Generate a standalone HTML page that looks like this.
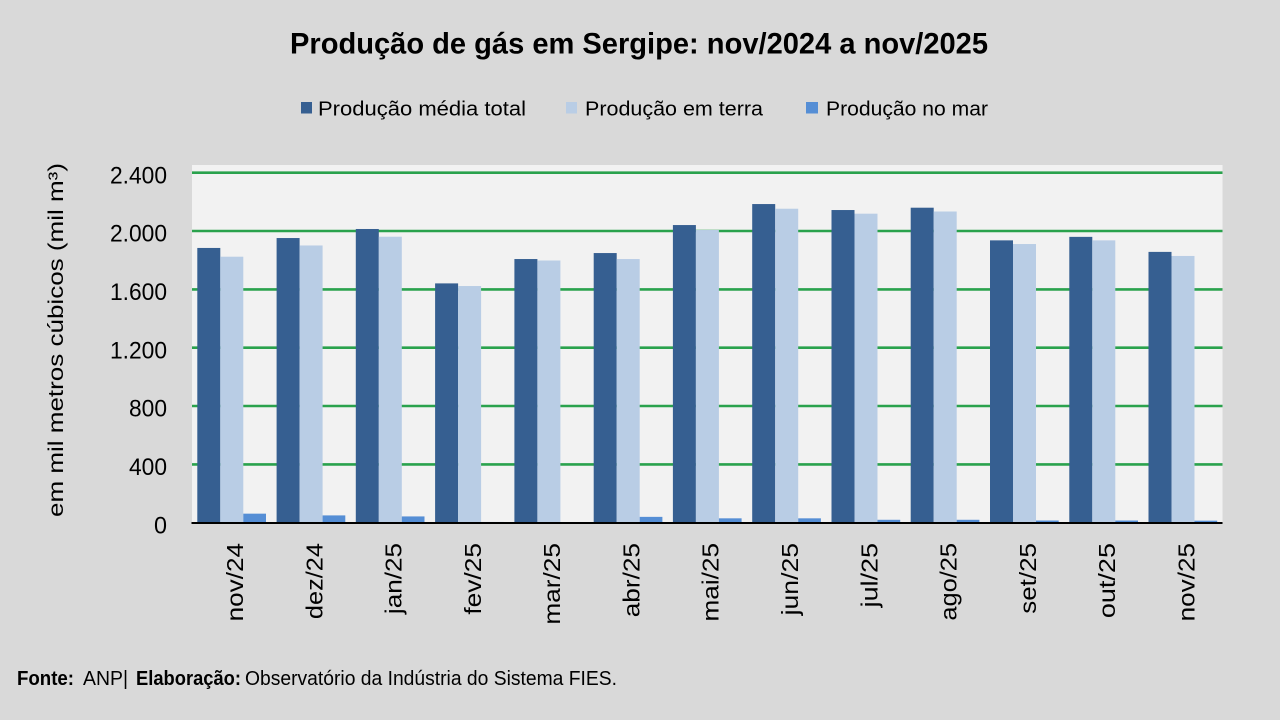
<!DOCTYPE html>
<html>
<head>
<meta charset="utf-8">
<style>
  html,body{margin:0;padding:0;background:#d9d9d9;}
  svg{display:block;}
  text{font-family:"Liberation Sans",Arial,sans-serif;fill:#000;}
</style>
</head>
<body>
<svg width="1280" height="720" viewBox="0 0 1280 720" xmlns="http://www.w3.org/2000/svg">
  <rect x="0" y="0" width="1280" height="720" fill="#d9d9d9"/>

  <!-- Title -->
  <text x="290" y="53.5" font-size="30" font-weight="bold" textLength="698" lengthAdjust="spacingAndGlyphs">Produção de gás em Sergipe: nov/2024 a nov/2025</text>

  <!-- Legend -->
  <rect x="301" y="102" width="11" height="11.5" fill="#365f91"/>
  <text x="318" y="115.5" font-size="20.5" textLength="208" lengthAdjust="spacingAndGlyphs">Produção média total</text>
  <rect x="566" y="102" width="11" height="11.5" fill="#b9cde5"/>
  <text x="585" y="115.5" font-size="20.5" textLength="178" lengthAdjust="spacingAndGlyphs">Produção em terra</text>
  <rect x="806" y="102" width="12" height="11.5" fill="#558ed5"/>
  <text x="826" y="115.5" font-size="20.5" textLength="162" lengthAdjust="spacingAndGlyphs">Produção no mar</text>

  <!-- Plot area -->
  <rect x="192" y="165" width="1030.5" height="358" fill="#f2f2f2"/>

  <!-- Gridlines -->
  <g stroke="#2aa24d" stroke-width="2.6">
    <line x1="192" y1="172.7" x2="1222.5" y2="172.7"/>
    <line x1="192" y1="231.0" x2="1222.5" y2="231.0"/>
    <line x1="192" y1="289.4" x2="1222.5" y2="289.4"/>
    <line x1="192" y1="347.7" x2="1222.5" y2="347.7"/>
    <line x1="192" y1="406.0" x2="1222.5" y2="406.0"/>
    <line x1="192" y1="464.4" x2="1222.5" y2="464.4"/>
  </g>

  <!-- Bars: dark (total) -->
  <g transform="translate(0,522.7) scale(1,-0.145833)" fill="#365f91">
    <rect x="197.3" y="0" width="23" height="1884"/>
    <rect x="276.6" y="0" width="23" height="1952"/>
    <rect x="355.8" y="0" width="23" height="2014"/>
    <rect x="435.1" y="0" width="23" height="1641"/>
    <rect x="514.4" y="0" width="23" height="1808"/>
    <rect x="593.7" y="0" width="23" height="1849"/>
    <rect x="672.9" y="0" width="23" height="2041"/>
    <rect x="752.2" y="0" width="23" height="2185"/>
    <rect x="831.5" y="0" width="23" height="2144"/>
    <rect x="910.7" y="0" width="23" height="2160"/>
    <rect x="990.0" y="0" width="23" height="1936"/>
    <rect x="1069.3" y="0" width="23" height="1960"/>
    <rect x="1148.5" y="0" width="23" height="1857"/>
  </g>
  <!-- Bars: light (terra) -->
  <g transform="translate(23,522.7) scale(1,-0.145833)" fill="#b9cde5">
    <rect x="197.3" y="0" width="23" height="1824"/>
    <rect x="276.6" y="0" width="23" height="1901"/>
    <rect x="355.8" y="0" width="23" height="1961"/>
    <rect x="435.1" y="0" width="23" height="1623"/>
    <rect x="514.4" y="0" width="23" height="1798"/>
    <rect x="593.7" y="0" width="23" height="1808"/>
    <rect x="672.9" y="0" width="23" height="2007"/>
    <rect x="752.2" y="0" width="23" height="2153"/>
    <rect x="831.5" y="0" width="23" height="2119"/>
    <rect x="910.7" y="0" width="23" height="2134"/>
    <rect x="990.0" y="0" width="23" height="1911"/>
    <rect x="1069.3" y="0" width="23" height="1936"/>
    <rect x="1148.5" y="0" width="23" height="1829"/>
  </g>
  <!-- Bars: blue (mar) -->
  <g transform="translate(46,522.7) scale(1,-0.145833)" fill="#558ed5">
    <rect x="197.3" y="0" width="22.7" height="62"/>
    <rect x="276.6" y="0" width="22.7" height="50"/>
    <rect x="355.8" y="0" width="22.7" height="43"/>
    <rect x="435.1" y="0" width="22.7" height="5"/>
    <rect x="514.4" y="0" width="22.7" height="0"/>
    <rect x="593.7" y="0" width="22.7" height="40"/>
    <rect x="672.9" y="0" width="22.7" height="30"/>
    <rect x="752.2" y="0" width="22.7" height="30"/>
    <rect x="831.5" y="0" width="22.7" height="20"/>
    <rect x="910.7" y="0" width="22.7" height="20"/>
    <rect x="990.0" y="0" width="22.7" height="15"/>
    <rect x="1069.3" y="0" width="22.7" height="15"/>
    <rect x="1148.5" y="0" width="22.7" height="14"/>
  </g>

  <!-- X axis line -->
  <line x1="191.5" y1="523" x2="1222.5" y2="523" stroke="#000" stroke-width="2"/>

  <!-- Y tick labels -->
  <g font-size="24" text-anchor="end">
    <text x="167" y="183.3" textLength="57" lengthAdjust="spacingAndGlyphs">2.400</text>
    <text x="167" y="241.6" textLength="57" lengthAdjust="spacingAndGlyphs">2.000</text>
    <text x="167" y="300.0" textLength="57" lengthAdjust="spacingAndGlyphs">1.600</text>
    <text x="167" y="358.3" textLength="57" lengthAdjust="spacingAndGlyphs">1.200</text>
    <text x="167" y="416.6" textLength="38" lengthAdjust="spacingAndGlyphs">800</text>
    <text x="167" y="475.0" textLength="38" lengthAdjust="spacingAndGlyphs">400</text>
    <text x="167" y="533.3" textLength="13" lengthAdjust="spacingAndGlyphs">0</text>
  </g>

  <!-- Y axis title -->
  <text transform="translate(63,340) rotate(-90)" x="0" y="0" font-size="21" text-anchor="middle" textLength="354" lengthAdjust="spacingAndGlyphs">em mil metros cúbicos (mil m³)</text>

  <!-- X labels -->
  <g font-size="23" text-anchor="end">
    <text transform="translate(243.1,543) rotate(-90)" textLength="78.4" lengthAdjust="spacingAndGlyphs">nov/24</text>
    <text transform="translate(322.4,543) rotate(-90)" textLength="76.1" lengthAdjust="spacingAndGlyphs">dez/24</text>
    <text transform="translate(401.6,543) rotate(-90)" textLength="71.1" lengthAdjust="spacingAndGlyphs">jan/25</text>
    <text transform="translate(480.9,543) rotate(-90)" textLength="71.7" lengthAdjust="spacingAndGlyphs">fev/25</text>
    <text transform="translate(560.2,543) rotate(-90)" textLength="81.7" lengthAdjust="spacingAndGlyphs">mar/25</text>
    <text transform="translate(639.5,543) rotate(-90)" textLength="74.3" lengthAdjust="spacingAndGlyphs">abr/25</text>
    <text transform="translate(718.7,543) rotate(-90)" textLength="78.5" lengthAdjust="spacingAndGlyphs">mai/25</text>
    <text transform="translate(798.0,543) rotate(-90)" textLength="72.4" lengthAdjust="spacingAndGlyphs">jun/25</text>
    <text transform="translate(877.3,543) rotate(-90)" textLength="64.4" lengthAdjust="spacingAndGlyphs">jul/25</text>
    <text transform="translate(956.5,543) rotate(-90)" textLength="77.7" lengthAdjust="spacingAndGlyphs">ago/25</text>
    <text transform="translate(1035.8,543) rotate(-90)" textLength="70.8" lengthAdjust="spacingAndGlyphs">set/25</text>
    <text transform="translate(1115.1,543) rotate(-90)" textLength="75.2" lengthAdjust="spacingAndGlyphs">out/25</text>
    <text transform="translate(1194.3,543) rotate(-90)" textLength="78.4" lengthAdjust="spacingAndGlyphs">nov/25</text>
  </g>

  <!-- Footer -->
  <g font-size="20">
    <text x="17" y="685" font-weight="bold" textLength="57" lengthAdjust="spacingAndGlyphs">Fonte:</text>
    <text x="83" y="685" textLength="45" lengthAdjust="spacingAndGlyphs">ANP|</text>
    <text x="136" y="685" font-weight="bold" textLength="105" lengthAdjust="spacingAndGlyphs">Elaboração:</text>
    <text x="245" y="685" textLength="372" lengthAdjust="spacingAndGlyphs">Observatório da Indústria do Sistema FIES.</text>
  </g>
</svg>
</body>
</html>
